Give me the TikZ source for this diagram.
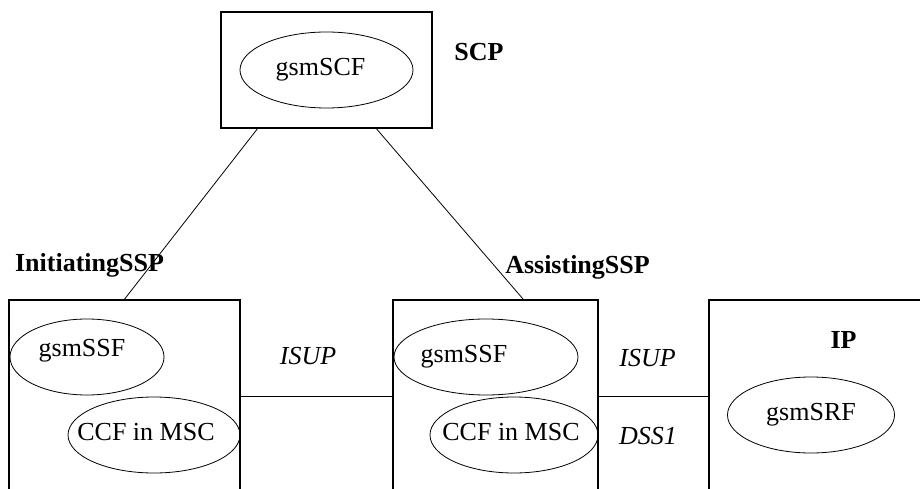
\documentclass[tikz,border=0pt]{standalone}
\usepackage{fontspec}
\setmainfont{Liberation Serif}
\usetikzlibrary{positioning,shapes.geometric,calc}

\begin{document}
\begin{tikzpicture}[
  x=1pt, y=-1pt,
  font=\fontsize{26}{30}\selectfont,
  nodebox/.style={
    rectangle,
    draw,
    line width=1.6pt,
    inner sep=0pt,
    minimum height=192pt
  },
  funcell/.style={
    ellipse,
    draw,
    line width=0.8pt,
    inner sep=0pt,
    minimum height=76pt
  },
  boxname/.style={
    font=\fontsize{26}{30}\selectfont\bfseries
  },
  protocol/.style={
    font=\fontsize{26}{30}\selectfont\itshape
  },
  link/.style={
    line width=0.8pt
  }]
  \useasboundingbox (0,0) rectangle (920,489);
  \clip (0,0) rectangle (920,489);
  % boxes
  \node[nodebox,minimum width=211pt,minimum height=116pt] (scp) at (326.5,70) {};
  \node[nodebox,minimum width=231pt] (init) at (124.5,396) {};
  \node[nodebox,minimum width=205pt] (assist) at (495.5,396) {};
  \node[nodebox,minimum width=231pt] (ip) at (824.5,396) {};
  % functions
  \node[funcell,minimum width=173pt,label={[xshift=-6pt]center:gsmSCF}] (scf) at (326.5,70) {};
  \node[funcell,minimum width=154pt,label={[xshift=-5pt,yshift=6pt]center:gsmSSF}] (ssfinit) at (87,357) {};
  \node[funcell,minimum width=172pt,label={[xshift=-8pt,yshift=3pt]center:CCF in MSC}] (ccfinit) at (154,435) {};
  \node[funcell,minimum width=184pt,label={[xshift=-22pt]center:gsmSSF}] (ssfassist) at (486,357) {};
  \node[funcell,minimum width=168pt,label={[xshift=-3pt,yshift=3pt]center:CCF in MSC}] (ccfassist) at (514,435) {};
  \node[funcell,minimum width=167pt,label={center:gsmSRF}] (srf) at (811,415) {};
  % names
  \node[boxname] (scpname) at (479,52) {SCP};
  \node[boxname] (initname) at (89.5,265) {InitiatingSSP};
  \node[boxname] (assistname) at (577.5,267) {AssistingSSP};
  \node[boxname] (ipname) at (843.5,340) {IP};
  % protocols
  \node[protocol] (isupleft) at (308,356) {ISUP};
  \node[protocol] (isupright) at (647.5,358) {ISUP};
  \node[protocol] (dss) at (648,436) {DSS1};
  % links
  \draw[link] ($(scp.south west)!0.175!(scp.south east)$) -- (init.north);
  \draw[link] ($(scp.south west)!0.735!(scp.south east)$) -- ($(assist.north west)!0.634!(assist.north east)$);
  \draw[link] (init.east) -- (assist.west);
  \draw[link] (assist.east) -- (ip.west);
\end{tikzpicture}
\end{document}
